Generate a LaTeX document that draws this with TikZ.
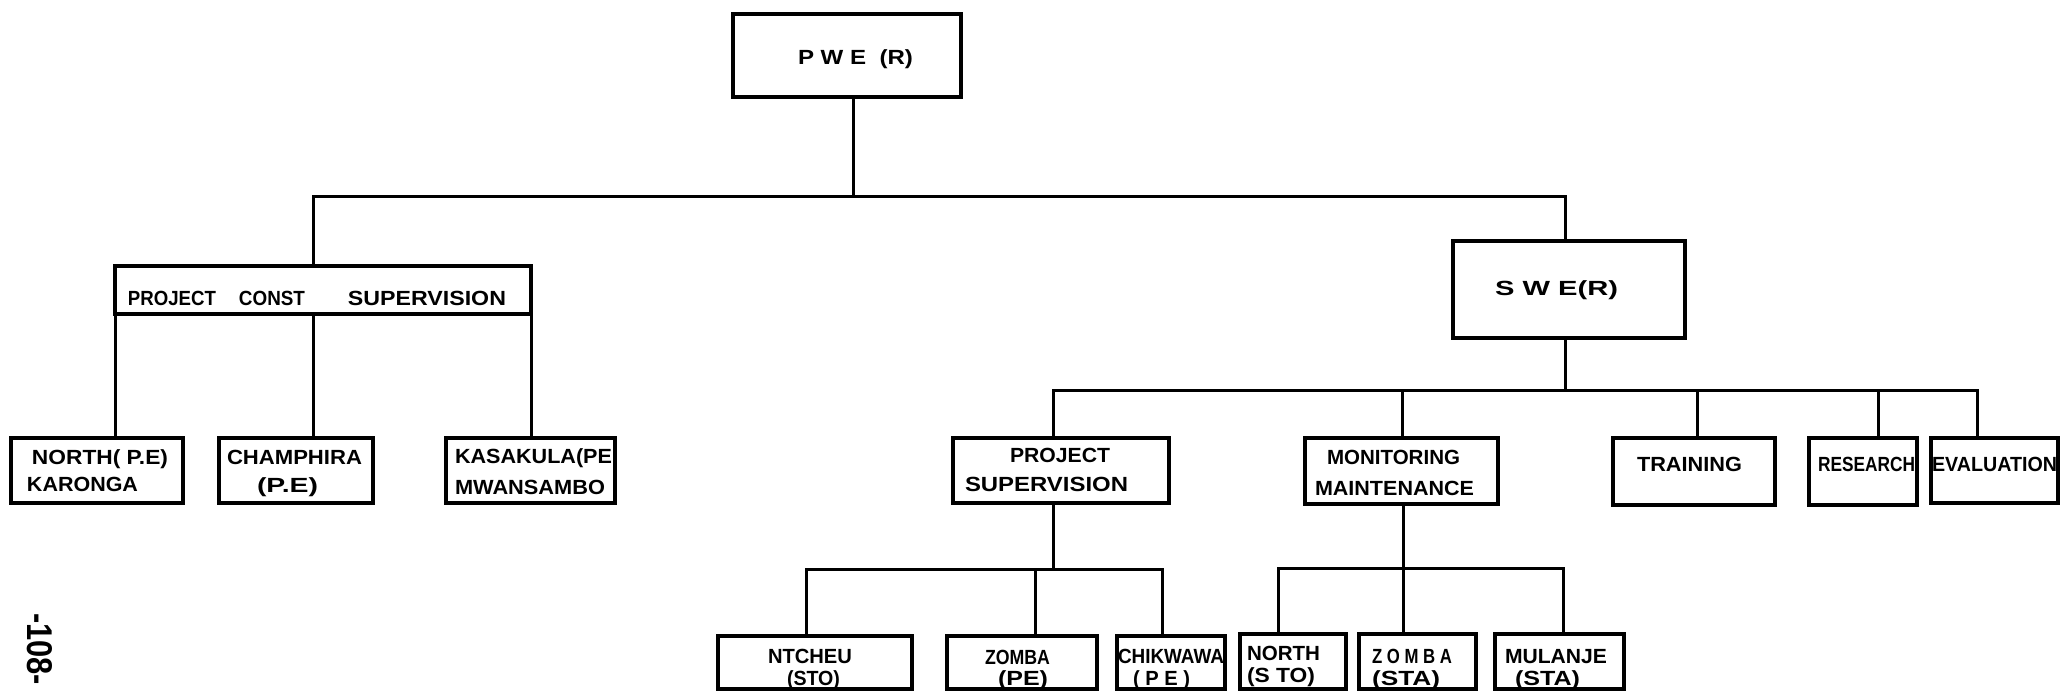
\documentclass[tikz,border=0pt]{standalone}
\usepackage{fontspec}
\usepackage{graphicx}
\newfontfamily\chartfont{Liberation Sans}
\newcommand\boxfont{\chartfont\bfseries\fontsize{20.5pt}{21pt}\selectfont}
% squeeze or stretch a line of lettering to a given width, keeping its height
\newcommand\hfit[2]{\resizebox{#1pt}{\height}{#2}}
\tikzset{
  unit/.style={draw, line width=4pt, inner sep=0pt, outer sep=0pt, line join=miter},
  wire/.style={line width=3pt, line join=miter, line cap=rect},
  every label/.style={font=\boxfont, inner sep=0pt, outer sep=0pt,
                      text height=14.9pt, text depth=0pt},
}
\begin{document}
\begin{tikzpicture}[x=1pt, y=-1pt]
\useasboundingbox (0,0) rectangle (2060,691);
\clip (0,0) rectangle (2060,691);
\fill[white] (0,0) rectangle (2060,691);

% ---------- level 0 ----------
\node[unit, minimum width=228pt, minimum height=83pt,
      label={[shift={(8.5,1.5)}]center:{\hfit{115}{P W E\ \ (R)}}}] (pwe) at (847,55.5) {};

% ---------- level 1 ----------
\node[unit, minimum width=416pt, minimum height=48pt,
      label={[shift={(-6,8)}]center:{\hfit{88}{PROJECT}\hspace{23pt}\hfit{66}{CONST}\hspace{43pt}\hfit{158}{SUPERVISION}}}] (pcs) at (323,290) {};
\node[unit, minimum width=232pt, minimum height=97pt,
      label={[shift={(-12.5,-1.5)}]center:{\hfit{123}{S W E(R)}}}] (swe) at (1569,289.5) {};

% ---------- construction supervision units ----------
\node[unit, minimum width=172pt, minimum height=65pt,
      label={[shift={(3,-13.5)}]center:{\hfit{136}{NORTH( P.E)}}},
      label={[shift={(-14.5,13.5)}]center:{\hfit{111}{KARONGA}}}] (n1) at (97,470.5) {};
\node[unit, minimum width=154pt, minimum height=65pt,
      label={[shift={(-1.5,-13.5)}]center:{\hfit{135}{CHAMPHIRA}}},
      label={[shift={(-8.5,14.5)}]center:{\hfit{61}{(P.E)}}}] (ch) at (296,470.5) {};
\node[unit, minimum width=169pt, minimum height=65pt,
      label={[shift={(3,-14.5)}]center:{\hfit{157}{KASAKULA(PE}}},
      label={[shift={(-0.5,16.5)}]center:{\hfit{150}{MWANSAMBO}}}] (ka) at (530.5,470.5) {};

% ---------- SWE sections ----------
\node[unit, minimum width=216pt, minimum height=65pt,
      label={[shift={(-1,-15.5)}]center:{\hfit{100}{PROJECT}}},
      label={[shift={(-14.5,14)}]center:{\hfit{163}{SUPERVISION}}}] (ps) at (1061,470.5) {};
\node[unit, minimum width=193pt, minimum height=66pt,
      label={[shift={(-8,-13.5)}]center:{\hfit{133}{MONITORING}}},
      label={[shift={(-7,17.5)}]center:{\hfit{159}{MAINTENANCE}}}] (mm) at (1401.5,471) {};
\node[unit, minimum width=162pt, minimum height=67pt,
      label={[shift={(-4.5,-7.5)}]center:{\hfit{105}{TRAINING}}}] (tr) at (1694,471.5) {};
\node[unit, minimum width=108pt, minimum height=67pt,
      label={[shift={(3.5,-7.5)}]center:{\hfit{97}{RESEARCH}}}] (re) at (1863,471.5) {};
\node[unit, minimum width=127pt, minimum height=65pt,
      label={[shift={(0,-6.5)}]center:{\hfit{125}{EVALUATION}}}] (ev) at (1994.5,470.5) {};

% ---------- project supervision stations ----------
\node[unit, minimum width=194pt, minimum height=53pt,
      label={[shift={(-5,-6.5)}]center:{\hfit{84}{NTCHEU}}},
      label={[shift={(-1.5,16)}]center:{\hfit{53}{(STO)}}}] (nt) at (815,662.5) {};
\node[unit, minimum width=150pt, minimum height=53pt,
      label={[shift={(-4.5,-5.5)}]center:{\hfit{65}{ZOMBA}}},
      label={[shift={(1,16)}]center:{\hfit{50}{(PE)}}}] (z1) at (1022,662.5) {};
\node[unit, minimum width=108pt, minimum height=53pt,
      label={[shift={(0,-6.5)}]center:{\hfit{106}{CHIKWAWA}}},
      label={[shift={(-9.5,16)}]center:{\hfit{57}{( P E )}}}] (ck) at (1171,662.5) {};

% ---------- monitoring stations ----------
\node[unit, minimum width=106pt, minimum height=55pt,
      label={[shift={(-9.5,-8)}]center:{\hfit{73}{NORTH}}},
      label={[shift={(-12,13.5)}]center:{\hfit{68}{(S TO)}}}] (n2) at (1293,661.5) {};
\node[unit, minimum width=117pt, minimum height=55pt,
      label={[shift={(-5.5,-5.5)}]center:{\hfit{80}{Z O M B A}}},
      label={[shift={(-11.5,16.5)}]center:{\hfit{68}{(STA)}}}] (z2) at (1417.5,661.5) {};
\node[unit, minimum width=129pt, minimum height=55pt,
      label={[shift={(-3.5,-5.5)}]center:{\hfit{102}{MULANJE}}},
      label={[shift={(-12,16.5)}]center:{\hfit{65}{(STA)}}}] (mu) at (1559.5,661.5) {};

% page number
\node[font=\boxfont, rotate=-90, inner sep=0pt] (folio) at (40,649) {\resizebox{72pt}{25pt}{-108-}};

% ---------- connectors ----------
\coordinate (jtop) at (853,196);
\coordinate (b1l) at (313,196);
\coordinate (b1r) at (1565,196);
\draw[wire] (pwe.south -| jtop) -- (jtop);
\draw[wire] (pcs.north -| b1l) -- (b1l) -- (b1r) -- (swe.north -| b1r);

\draw[wire] (pcs.south west) -- (n1.north -| pcs.south west);
\draw[wire] (pcs.south -| b1l) -- (ch.north -| b1l);
\draw[wire] (pcs.south east) -- (ka.north -| pcs.south east);

\coordinate (j2) at (1565,390);
\coordinate (d-ps) at (1053,390);
\coordinate (d-mm) at (1402,390);
\coordinate (d-tr) at (1697,390);
\coordinate (d-re) at (1878,390);
\coordinate (d-ev) at (1977,390);
\draw[wire] (swe.south -| j2) -- (j2);
\draw[wire] (ps.north -| d-ps) -- (d-ps) -- (d-ev) -- (ev.north -| d-ev);
\draw[wire] (d-mm) -- (mm.north -| d-mm);
\draw[wire] (d-tr) -- (tr.north -| d-tr);
\draw[wire] (d-re) -- (re.north -| d-re);

\coordinate (j3) at (1053,569);
\coordinate (d-nt) at (806,569);
\coordinate (d-z1) at (1035,569);
\coordinate (d-ck) at (1162,569);
\draw[wire] (ps.south -| j3) -- (j3);
\draw[wire] (nt.north -| d-nt) -- (d-nt) -- (d-ck) -- (ck.north -| d-ck);
\draw[wire] (d-z1) -- (z1.north -| d-z1);

\coordinate (j4) at (1403,568);
\coordinate (d-n2) at (1278,568);
\coordinate (d-mu) at (1563,568);
\draw[wire] (mm.south -| j4) -- (j4);
\draw[wire] (n2.north -| d-n2) -- (d-n2) -- (d-mu) -- (mu.north -| d-mu);
\draw[wire] (j4) -- (z2.north -| j4);
\end{tikzpicture}
\end{document}
